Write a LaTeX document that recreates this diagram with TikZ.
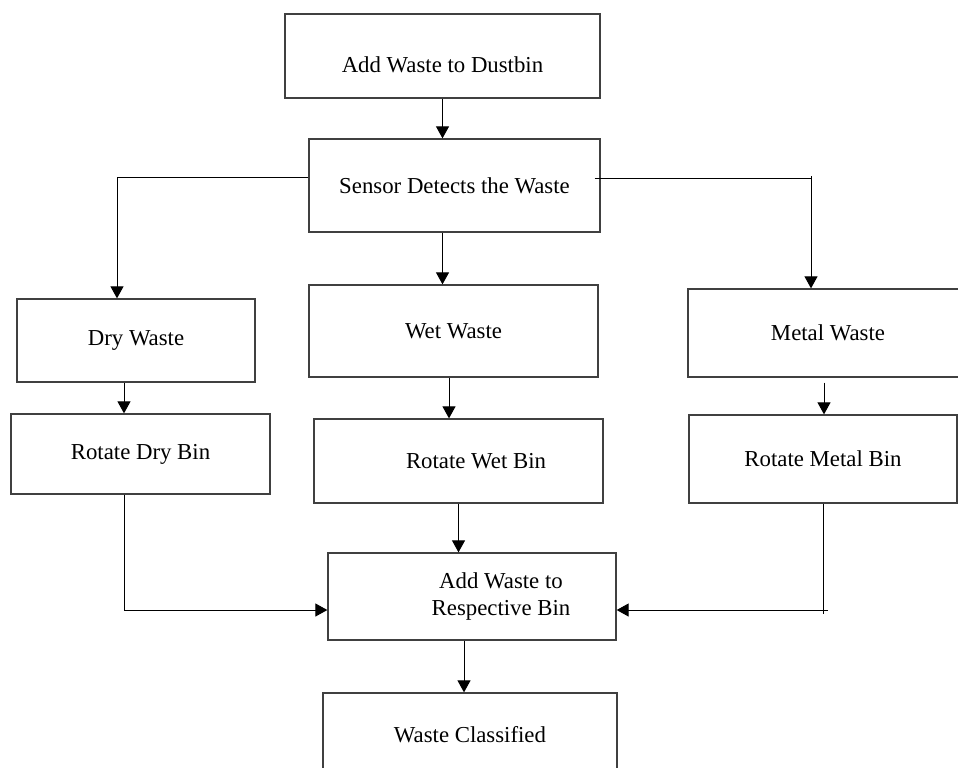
\documentclass[tikz,border=0pt]{standalone}
\usepackage{fontspec}
\setmainfont{Liberation Serif}
\usepackage{tikz}
\usetikzlibrary{arrows.meta, positioning, calc}
\definecolor{boxline}{RGB}{64,64,64}
\definecolor{flowline}{RGB}{0,0,0}

\begin{document}
\begin{tikzpicture}[x=0.5pt, y=-0.5pt,
    stage/.style={draw=boxline, line width=0.65pt, inner sep=0pt, align=center,
        font=\fontsize{11.4}{13.6}\selectfont},
    flow/.style={draw=flowline, line width=0.5pt, -{Triangle[width=6.5pt,length=6pt]}},
    plain/.style={draw=flowline, line width=0.5pt}]
    % Page frame
    \fill[white] (0,0) rectangle (958,767);
    \useasboundingbox (0,0) rectangle (958,767);

    % Stages
    \node[stage, minimum width=157.5pt, minimum height=42pt] (dustbin) at (442.5,56) {\raisebox{-4.5pt}[\height][\depth]{Add Waste to Dustbin}};
    \node[stage, minimum width=145.5pt, minimum height=46.5pt] (sensor) at (454.5,185.5) {Sensor Detects the Waste};
    \node[stage, minimum width=119pt, minimum height=41.5pt] (dry) at (136,340.5) {Dry Waste};
    \node[stage, minimum width=144.5pt, minimum height=46pt] (wet) at (453.5,331) {Wet Waste};
    \node[stage, minimum width=140pt, minimum height=44pt] (metal) at (828,333) {Metal Waste};
    \node[stage, minimum width=129.5pt, minimum height=40pt] (rotdry) at (140.5,454) {Rotate Dry Bin};
    \node[stage, minimum width=144.5pt, minimum height=42pt] (rotwet) at (458.5,461) {\hspace*{17.5pt}Rotate Wet Bin};
    \node[stage, minimum width=134pt, minimum height=44pt] (rotmetal) at (823,459) {Rotate Metal Bin};
    \node[stage, minimum width=144pt, minimum height=43.5pt] (respective) at (472,596.5) {\hspace*{29pt}Add Waste to\\\hspace*{29pt}Respective Bin};
    \node[stage, minimum width=147pt, minimum height=42pt] (classified) at (470,735) {Waste Classified};

    % Turning points
    \coordinate (dryturn) at (117,177);
    \coordinate (metalturn) at (811,178);
    \coordinate (metaljoin) at (823,610);

    % Connectors
    \draw[flow] (dustbin.south) -- (dustbin.south |- sensor.north);
    \draw[flow] (sensor.west |- dryturn) -- (dryturn) -- (dryturn |- dry.north);
    \draw[plain] ([xshift=-3pt]sensor.east |- metalturn) -- (metalturn);
    \draw[flow] ([yshift=1pt]metalturn) -- (metalturn |- metal.north);
    \draw[flow] (dustbin.south |- sensor.south) -- (dustbin.south |- wet.north);
    \draw[flow] ([xshift=-6pt]dry.south) -- ([xshift=-6pt]dry.south |- rotdry.north);
    \draw[flow] ([xshift=-2.25pt]wet.south) -- ([xshift=-2.25pt]wet.south |- rotwet.north);
    \draw[flow] ([xshift=-2pt,yshift=-2.5pt]metal.south) -- ([xshift=-2pt]metal.south |- rotmetal.north);
    \draw[flow] (rotwet.south) -- (rotwet.south |- respective.north);
    \draw[flow] ([xshift=-8.25pt]rotdry.south) |- ([yshift=-6.75pt]respective.west);
    \draw[plain] (rotmetal.south) -- ([yshift=-2pt]metaljoin);
    \draw[flow] ([xshift=2.5pt]metaljoin) -- (metaljoin -| respective.east);
    \draw[flow] ([xshift=-4pt]respective.south) -- ([xshift=-4pt]respective.south |- classified.north);
\end{tikzpicture}
\end{document}
